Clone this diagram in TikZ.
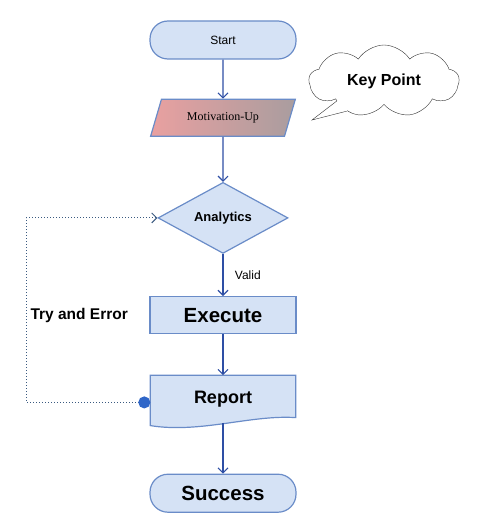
\documentclass[tikz,border=0pt]{standalone}
\usepackage{fontspec}
\setmainfont{Liberation Serif}
\setsansfont{Liberation Sans}
\usetikzlibrary{positioning,shapes.geometric,shapes.symbols,arrows.meta}

\definecolor{boxfill}{HTML}{D5E2F5}
\definecolor{boxline}{HTML}{6A8CC8}
\definecolor{flowblue}{HTML}{2E4FA5}
\definecolor{loopgrey}{HTML}{3A5A80}
\definecolor{dotblue}{HTML}{2F66C8}
\definecolor{motleft}{HTML}{E9A0A0}
\definecolor{motright}{HTML}{A99D9F}

\begin{document}
\begin{tikzpicture}[x=1pt, y=1pt,
termnode/.style={rectangle, rounded corners=18pt, draw=boxline, fill=boxfill, line width=1.2pt, minimum width=146pt, minimum height=38pt},
ionode/.style={trapezium, trapezium left angle=68, trapezium right angle=112, trapezium stretches=true, draw=boxline, line width=1.2pt, left color=motleft, right color=motright, minimum width=145pt, minimum height=37pt},
decisionnode/.style={diamond, aspect=1.83, draw=boxline, fill=boxfill, line width=1.2pt, minimum width=130pt, minimum height=71pt, inner sep=0pt},
processnode/.style={rectangle, draw=boxline, fill=boxfill, line width=1.2pt, minimum width=146pt, minimum height=37pt},
docnode/.style={rectangle, minimum width=145pt, minimum height=42pt},
keycloud/.style={cloud, cloud puffs=9, cloud puff arc=115, draw=black!80, fill=white, minimum width=150pt, minimum height=72pt},
bigtext/.style={font=\sffamily\bfseries\fontsize{20.5}{22}\selectfont},
flow/.style={draw=flowblue, line width=1.1pt, -{Straight Barb[length=5pt,width=10pt]}},
loopline/.style={draw=loopgrey, line width=1pt, dotted, {Circle[length=12pt,color=dotblue]}-{Straight Barb[length=5pt,width=10pt]}},
]
\useasboundingbox (0,0) rectangle (500,-516);

%Nodes
\node[termnode, font=\sffamily\fontsize{12}{14}\selectfont] (start) at (223,-40) {Start};
\node[ionode, font=\fontsize{12}{14}\selectfont] (motiv) [below=39pt of start] {Motivation-Up};
\node[decisionnode, font=\sffamily\bfseries\fontsize{13}{15}\selectfont] (analytics) [below=45pt of motiv] {Analytics};
\node[processnode, bigtext] (execute) [below=42pt of analytics] {Execute};
\node[docnode]       (report)    [below=41pt of execute]    {};
\node[termnode, bigtext] (success) [below=56pt of report] {Success};
\node[font=\sffamily\bfseries\fontsize{15.5}{17}\selectfont] (tryerror) [left=18pt of execute] {Try and Error};
\node[keycloud]      (keypoint)  at (384,-81)               {};

%Document shape
\draw[draw=boxline, fill=boxfill, line width=1.2pt] (report.south east) -- (report.north east) -- (report.north west)
  -- ([yshift=-8pt]report.south west)
  .. controls ([xshift=50pt,yshift=-16pt]report.south west) and ([xshift=-45pt,yshift=3pt]report.south east) .. (report.south east) -- cycle;
\node[font=\sffamily\bfseries\fontsize{18}{20}\selectfont] (reportlabel) at ([yshift=-3pt]report.center) {Report};

%Callout pointer
\coordinate (keytip) at (312,-120);
\fill[white] (keypoint.203) -- (keytip) -- (keypoint.219) -- ([shift={(10pt,10pt)}]keypoint.211) -- cycle;
\draw[black!80] (keypoint.203) -- (keytip) -- (keypoint.219);
\node[font=\sffamily\bfseries\fontsize{16}{18}\selectfont] (keylabel) at (keypoint) {Key Point};

%Lines
\draw[flow] (start) -- (motiv);
\draw[flow] (motiv) -- (analytics);
\draw[flow] (analytics) -- node[right=8pt, pos=0.5, font=\sffamily\fontsize{12}{14}\selectfont] {Valid} (execute);
\draw[flow] (execute) -- (report);
\draw[flow] ([yshift=-5pt]report.south) -- (success);
\draw[loopline] ([yshift=-6pt]report.west) -- ++(-124pt,0) |- (analytics.west);
\end{tikzpicture}
\end{document}
